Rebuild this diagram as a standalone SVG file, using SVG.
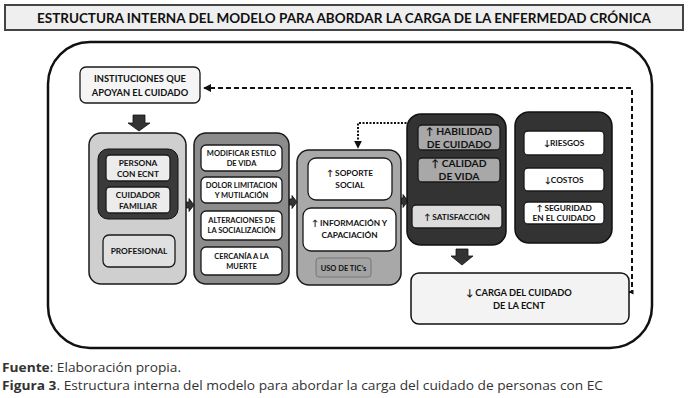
<svg xmlns="http://www.w3.org/2000/svg" width="688" height="398" viewBox="0 0 688 398">
<defs>
<style>
.t{font-family:Lato,"Liberation Sans",sans-serif;font-weight:bold;fill:#111;text-anchor:middle}
.s7{font-size:7.5px}.s8{font-size:8.3px}.s9{font-size:9.3px}.s10{font-size:10.3px}
.col{stroke:#1a1a1a;stroke-width:1.5}
.bx{stroke:#1a1a1a;stroke-width:1.3}
.blk{fill:#333;stroke:#111;stroke-width:0.8}
.cap{font-family:"Open Sans","Liberation Sans",sans-serif;font-size:13.2px;fill:#333}
</style>
<marker id="ah" viewBox="0 0 10 10" refX="9" refY="5" markerWidth="4" markerHeight="4" orient="auto-start-reverse"><path d="M0,0 L10,5 L0,10 z" fill="#111"/></marker>
<marker id="ahs" viewBox="0 0 10 10" refX="9" refY="5" markerWidth="2.5" markerHeight="2.5" orient="auto-start-reverse"><path d="M0,0 L10,5 L0,10 z" fill="#111"/></marker>
</defs>
<rect width="688" height="398" fill="#fff"/>
<g id="title">
<rect x="5" y="5" width="678" height="25" fill="#efefef" stroke="#444" stroke-width="2"/>
<text x="344" y="22.5" class="t" font-size="13" textLength="614" lengthAdjust="spacingAndGlyphs">ESTRUCTURA INTERNA DEL MODELO PARA ABORDAR LA CARGA DE LA ENFERMEDAD CRÓNICA</text>
</g>
<g id="frame"><rect x="48" y="42" width="604" height="306" rx="42" fill="#fff" stroke="#111" stroke-width="2.5"/></g>

<g id="connectors">
<path d="M629,292 H632 V88 H204" fill="none" stroke="#111" stroke-width="2" stroke-dasharray="5 3" marker-end="url(#ah)" marker-start="url(#ahs)"/>
<path d="M410,123 H358 V148" fill="none" stroke="#111" stroke-width="2" stroke-dasharray="2 1.5" marker-end="url(#ah)"/>
<path class="blk" d="M133,115 H145 V123 H150 L139,131 L128,123 H133 Z"/>
<path class="blk" d="M456,249 H468 V256 H473 L462,265 L451,256 H456 Z"/>
<path class="blk" d="M185,202 H189 V198.5 L194,205 L189,211.5 V208 H185 Z"/>
<path class="blk" d="M288,199 H292 V195.5 L297,202 L292,208.5 V205 H288 Z"/>
<path class="blk" d="M400,198 H403 V194.5 L408,201 L403,207.5 V204 H400 Z"/>
</g>

<g id="instituciones">
<rect x="80" y="67" width="120" height="36" rx="6" fill="#f5f5f5" class="bx" stroke-width="1.5"/>
<text x="140" y="82" class="t s9">INSTITUCIONES QUE</text>
<text x="140" y="96" class="t s9">APOYAN EL CUIDADO</text>
</g>

<g id="col1">
<rect x="89" y="133" width="97" height="151" rx="12" fill="#cfcfcf" class="col"/>
<rect x="98" y="149" width="80" height="70" rx="10" fill="#3a3a3a" stroke="#111" stroke-width="1"/>
<g id="persona"><rect x="106" y="155" width="64" height="26" rx="4" fill="#ececec" class="bx"/>
<text x="138" y="166" class="t s8">PERSONA</text><text x="138" y="177" class="t s8">CON ECNT</text></g>
<g id="cuidador"><rect x="106" y="187" width="64" height="26" rx="4" fill="#ececec" class="bx"/>
<text x="138" y="198" class="t s8">CUIDADOR</text><text x="138" y="209" class="t s8">FAMILIAR</text></g>
<g id="profesional"><rect x="103" y="235" width="72" height="32" rx="6" fill="#e0e0e0" class="bx"/>
<text x="139" y="254" class="t s8">PROFESIONAL</text></g>
</g>

<g id="col2">
<rect x="194" y="133" width="95" height="151" rx="12" fill="#8c8c8c" class="col"/>
<g id="modificar"><rect x="201" y="145" width="81" height="26" rx="5" fill="#fff" class="bx"/>
<text x="241.5" y="156" class="t s7">MODIFICAR ESTILO</text><text x="241.5" y="166" class="t s7">DE VIDA</text></g>
<g id="dolor"><rect x="201" y="177" width="81" height="26" rx="5" fill="#fff" class="bx"/>
<text x="241.5" y="188" class="t s7">DOLOR LIMITACION</text><text x="241.5" y="198" class="t s7">Y MUTILACIÓN</text></g>
<g id="alteraciones"><rect x="201" y="211" width="81" height="29" rx="5" fill="#fff" class="bx"/>
<text x="241.5" y="223" class="t s7">ALTERACIONES DE</text><text x="241.5" y="233" class="t s7">LA SOCIALIZACIÓN</text></g>
<g id="cercania"><rect x="201" y="247" width="81" height="28" rx="5" fill="#fff" class="bx"/>
<text x="241.5" y="259" class="t s7">CERCANÍA A LA</text><text x="241.5" y="269" class="t s7">MUERTE</text></g>
</g>

<g id="col3">
<rect x="297" y="150" width="104" height="135" rx="12" fill="#a8a8a8" class="col"/>
<g id="soporte"><rect x="308" y="158" width="84" height="42" rx="8" fill="#fff" class="bx"/>
<text x="350" y="176" class="t s8">↑ SOPORTE</text><text x="350" y="188" class="t s8">SOCIAL</text></g>
<g id="informacion"><rect x="303" y="208" width="93" height="43" rx="8" fill="#fff" class="bx"/>
<text x="349.5" y="226" class="t s8">↑ INFORMACIÓN Y</text><text x="349.5" y="238" class="t s8">CAPACIACIÓN</text></g>
<g id="tics"><rect x="316" y="258" width="55" height="19" rx="3" fill="#a3a3a3" stroke="#777" stroke-width="1"/>
<text x="343.5" y="270.5" class="t s7">USO DE TIC’s</text></g>
</g>

<g id="col4">
<rect x="407" y="114" width="99" height="131" rx="14" fill="#333" stroke="#111" stroke-width="1.5"/>
<g id="habilidad"><rect x="418" y="125" width="82" height="25" rx="4" fill="#a8a8a8" class="bx"/>
<text x="459" y="135" class="t s10">↑ HABILIDAD</text><text x="459" y="147.5" class="t s10">DE CUIDADO</text></g>
<g id="calidad"><rect x="418" y="158" width="82" height="24" rx="4" fill="#a8a8a8" class="bx"/>
<text x="459" y="167" class="t s10">↑ CALIDAD</text><text x="459" y="179.5" class="t s10">DE VIDA</text></g>
<g id="satisfaccion"><rect x="412" y="205" width="90" height="23" rx="4" fill="#dcdcdc" class="bx"/>
<text x="457" y="219.5" class="t s8">↑ SATISFACCIÓN</text></g>
</g>

<g id="col5">
<rect x="515" y="112" width="97" height="131" rx="14" fill="#333" stroke="#111" stroke-width="1.5"/>
<g id="riesgos"><rect x="524" y="131" width="80" height="24" rx="4" fill="#fff" class="bx"/>
<text x="564" y="146" class="t s8">↓RIESGOS</text></g>
<g id="costos"><rect x="524" y="168" width="80" height="23" rx="4" fill="#fff" class="bx"/>
<text x="564" y="182.5" class="t s8">↓COSTOS</text></g>
<g id="seguridad"><rect x="524" y="202" width="80" height="22" rx="4" fill="#fff" class="bx"/>
<text x="564" y="211" class="t s8">↑ SEGURIDAD</text><text x="564" y="221" class="t s8">EN EL CUIDADO</text></g>
</g>

<g id="carga">
<rect x="411" y="273" width="218" height="51" rx="8" fill="#f3f3f3" stroke="#111" stroke-width="1.5"/>
<text x="519" y="296" class="t s9">↓ CARGA DEL CUIDADO</text>
<text x="519" y="309" class="t s9">DE LA ECNT</text>
</g>

<g id="captions">
<text x="2" y="372" class="cap" textLength="179" lengthAdjust="spacingAndGlyphs"><tspan font-weight="bold">Fuente</tspan>: Elaboración propia.</text>
<text x="2" y="390" class="cap" textLength="601" lengthAdjust="spacingAndGlyphs"><tspan font-weight="bold">Figura 3</tspan>. Estructura interna del modelo para abordar la carga del cuidado de personas con EC</text>
</g>
</svg>
